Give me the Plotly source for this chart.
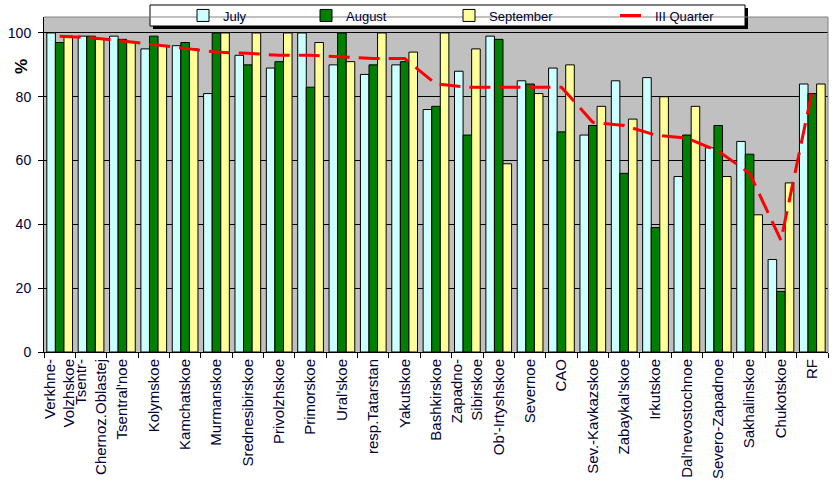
import plotly.graph_objects as go

categories = ["Verkhne-<br>Volzhskoe", "Tsentr-<br>Chernoz.Oblastej", "Tsentral'noe", "Kolymskoe",
              "Kamchatskoe", "Murmanskoe", "Srednesibirskoe", "Privolzhskoe", "Primorskoe",
              "Ural'skoe", "resp.Tatarstan", "Yakutskoe", "Bashkirskoe", "Zapadno-<br>Sibirskoe",
              "Ob'-Irtyshskoe", "Severnoe", "CAO", "Sev.-Kavkazskoe", "Zabaykal'skoe", "Irkutskoe",
              "Dal'nevostochnoe", "Severo-Zapadnoe", "Sakhalinskoe", "Chukotskoe", "RF"]
july = [100, 99, 99, 95, 96, 81, 93, 89, 100, 90, 87, 90, 76, 88, 99, 85, 89, 68, 85, 86, 55, 64, 66, 29, 84]
august = [97, 99, 98, 99, 97, 100, 90, 91, 83, 100, 90, 91, 77, 68, 98, 84, 69, 71, 56, 39, 68, 71, 62, 19, 81]
september = [99, 98, 97, 96, 95, 100, 100, 100, 97, 91, 100, 94, 100, 95, 59, 81, 90, 77, 73, 80, 77, 55, 43, 53, 84]
quarter = [99, 98.5, 97.5, 96.4, 95.2, 94, 93.6, 93, 93, 92.5, 92, 92, 84, 83, 83, 83, 83, 72, 71, 68, 67, 63, 56, 35, 82]
y_ticks = [0, 20, 40, 60, 80, 100]

W, H = 835, 499
L, R, T, B = 44, 7, 17, 147
pw, ph = W - L - R, H - T - B


def px_x(p):
    return (p - L) / pw


def px_y(p):
    return (H - B - p) / ph


fig = go.Figure()
edge = dict(color="black", width=1)
fig.add_trace(go.Bar(x=categories, y=july, name="July", marker=dict(color="#CCFFFF", line=edge), legendwidth=78))
fig.add_trace(go.Bar(x=categories, y=august, name="August", marker=dict(color="#008000", line=edge), legendwidth=98))
fig.add_trace(go.Bar(x=categories, y=september, name="September", marker=dict(color="#FFFF99", line=edge), legendwidth=121))
fig.add_trace(go.Scatter(x=categories, y=quarter, name="III Quarter", mode="lines",
                         line=dict(color="#FF0000", width=3, dash="21px,9px"), legendwidth=80))

# legend frame with shadow
fig.add_shape(type="rect", xref="paper", yref="paper", x0=px_x(153), x1=px_x(748), y0=px_y(29), y1=px_y(8),
              fillcolor="black", line=dict(width=0), layer="above")
fig.add_shape(type="rect", xref="paper", yref="paper", x0=px_x(150), x1=px_x(745), y0=px_y(26), y1=px_y(5),
              fillcolor="white", line=dict(color="black", width=1), layer="above")
# plot area top/right border
fig.add_shape(type="line", xref="paper", yref="paper", x0=0, x1=1, y0=1, y1=1, line=dict(color="#808080", width=1))
fig.add_shape(type="line", xref="paper", yref="paper", x0=1, x1=1, y0=0, y1=1, line=dict(color="#808080", width=1))

fig.add_annotation(text="<b>%</b>", xref="paper", yref="paper", x=px_x(21.5), y=px_y(66.5), showarrow=False,
                   xanchor="center", yanchor="middle",
                   textangle=-90, font=dict(size=17, color="#000000", family="Liberation Sans, Arial"))

fig.update_layout(
    width=W, height=H,
    margin=dict(l=L, r=R, t=T, b=B, autoexpand=False),
    paper_bgcolor="white", plot_bgcolor="#C0C0C0",
    barmode="group", bargap=0.18, bargroupgap=0,
    font=dict(family="Liberation Sans, Arial", color="#000033", size=13),
    showlegend=True,
    legend=dict(orientation="h", x=px_x(183), xanchor="left", y=px_y(15.5), yanchor="middle",
                bgcolor="rgba(0,0,0,0)", borderwidth=0, font=dict(size=13, color="#000033"),
                traceorder="normal"),
    xaxis=dict(type="category", tickangle=-90, tickson="boundaries", ticks="outside", ticklen=5,
               tickcolor="black", showline=True, linecolor="black", linewidth=1, showgrid=False,
               automargin=False, tickfont=dict(size=15, color="#000033")),
    yaxis=dict(range=[0, 105], tickvals=y_ticks, ticktext=[str(v) for v in y_ticks], ticks="outside", ticklen=5,
               tickcolor="black", showline=True, linecolor="black", linewidth=1, showgrid=True,
               gridcolor="black", gridwidth=1, zeroline=False, tickfont=dict(size=14, color="#000033"),
               automargin=False, ticklabelstandoff=4),
)

fig.write_html("out.html", config={"displayModeBar": False},
               post_script="document.body.style.margin='0';document.body.style.overflow='hidden';")
